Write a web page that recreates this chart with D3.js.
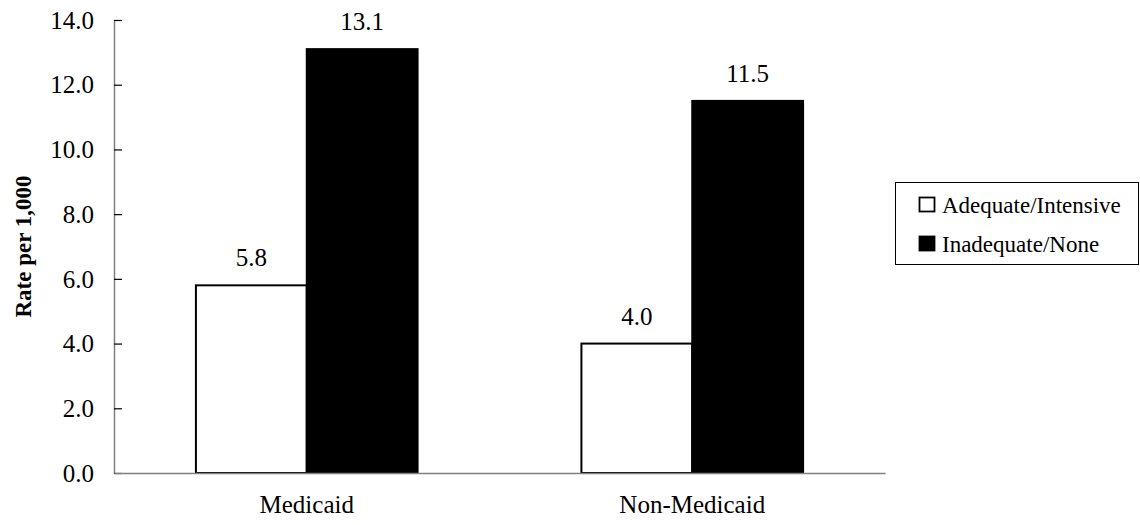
<!DOCTYPE html>
<html>
<head>
<meta charset="utf-8">
<script src="https://cdn.jsdelivr.net/npm/d3@7"></script>
<style>
  html, body { margin: 0; padding: 0; background: #fff; }
  svg { display: block; }
  svg text { font-family: "Liberation Serif", Tinos, "Times New Roman", Times, "DejaVu Serif", serif; }
</style>
</head>
<body>
<svg id="chart" width="1140" height="525"></svg>
<script>
// Rates per 1,000 by insurance group and prenatal care level
const categories = ["Medicaid", "Non-Medicaid"];
const seriesNames = ["Adequate/Intensive", "Inadequate/None"];
const adequateValues = [5.8, 4.0];
const inadequateValues = [13.1, 11.5];
const yTicks = [0, 2, 4, 6, 8, 10, 12, 14];
const yLabel = "Rate per 1,000";

const FONT = '"Liberation Serif", Tinos, "Times New Roman", Times, "DejaVu Serif", serif';

const svg = d3.select("#chart").attr("font-family", FONT);
const margin = { left: 114, right: 255, top: 20, bottom: 52 };
const W = 1140, H = 525;
const plotW = W - margin.left - margin.right;
const plotH = H - margin.top - margin.bottom;

const g = svg.append("g").attr("transform", `translate(${margin.left},${margin.top})`);

const x0 = d3.scaleBand().domain(categories).range([0, plotW]).paddingInner(0).paddingOuter(0);
const x1 = d3.scaleBand().domain(seriesNames).range([0, x0.bandwidth() * 0.575])
  .paddingInner(0);
const groupOffset = (x0.bandwidth() - x1.range()[1]) / 2;
const y = d3.scaleLinear().domain([0, 14]).range([plotH, 0]);

const fills = { "Adequate/Intensive": "#ffffff", "Inadequate/None": "#000000" };

const rows = categories.map((c, i) => ({
  cat: c,
  vals: [
    { s: seriesNames[0], v: adequateValues[i] },
    { s: seriesNames[1], v: inadequateValues[i] }
  ]
}));

// Bars
const groups = g.selectAll("g.grp").data(rows).join("g")
  .attr("class", "grp")
  .attr("transform", d => `translate(${x0(d.cat) + groupOffset},0)`);

groups.selectAll("rect").data(d => d.vals).join("rect")
  .attr("x", d => x1(d.s))
  .attr("y", d => y(d.v))
  .attr("width", x1.bandwidth())
  .attr("height", d => plotH - y(d.v))
  .attr("fill", d => fills[d.s])
  .attr("stroke", "#000")
  .attr("stroke-width", 2);

// Value labels
groups.selectAll("text.val").data(d => d.vals).join("text")
  .attr("class", "val")
  .attr("x", d => x1(d.s) + x1.bandwidth() / 2)
  .attr("y", d => y(d.v) - 19)
  .attr("text-anchor", "middle")
  .attr("font-size", 25)
  .attr("fill", "#000")
  .text(d => d.v.toFixed(1));

// Y axis
const yAxis = d3.axisLeft(y).tickValues(yTicks).tickFormat(d3.format(".1f")).tickSize(0).tickPadding(0);
const ya = g.append("g").call(yAxis).attr("font-family", FONT).attr("font-size", 25);
ya.select(".domain").attr("stroke", "#808080").attr("stroke-width", 1.5);
ya.selectAll(".tick text")
  .attr("x", -20)
  .attr("dy", "0.33em")
  .attr("fill", "#000");
// inward tick marks
ya.selectAll(".tick").append("line")
  .attr("x1", 0).attr("x2", 8)
  .attr("stroke", "#000").attr("stroke-width", 1.2);

// X axis baseline
const xa = g.append("g").attr("transform", `translate(0,${plotH})`)
  .call(d3.axisBottom(x0).tickSize(0).tickPadding(0))
  .attr("font-family", FONT).attr("font-size", 25);
xa.select(".domain").attr("stroke", "#808080").attr("stroke-width", 1.5);
xa.selectAll(".tick text")
  .attr("y", 32)
  .attr("dy", "0.33em")
  .attr("fill", "#000");

// Y axis title
svg.append("text")
  .attr("transform", `translate(23,${margin.top + plotH / 2}) rotate(-90)`)
  .attr("text-anchor", "middle")
  .attr("dy", "0.35em")
  .attr("font-size", 23)
  .attr("font-weight", "bold")
  .attr("fill", "#000")
  .text(yLabel);

// Legend
const legend = svg.append("g").attr("transform", "translate(895,182)");
legend.append("rect")
  .attr("x", 0.5).attr("y", 0.5).attr("width", 243).attr("height", 82)
  .attr("fill", "#fff").attr("stroke", "#000").attr("stroke-width", 1);
const li = legend.selectAll("g.item").data(seriesNames).join("g")
  .attr("class", "item")
  .attr("transform", (d, i) => `translate(24,${22.5 + i * 39})`);
li.append("rect")
  .attr("x", 0.5).attr("y", -7).attr("width", 15).attr("height", 14)
  .attr("fill", d => fills[d]).attr("stroke", "#000").attr("stroke-width", 1.8);
li.append("text")
  .attr("x", 23).attr("y", 0).attr("dy", "0.35em")
  .attr("font-size", 23)
  .attr("fill", "#000")
  .text(d => d);
</script>
</body>
</html>
